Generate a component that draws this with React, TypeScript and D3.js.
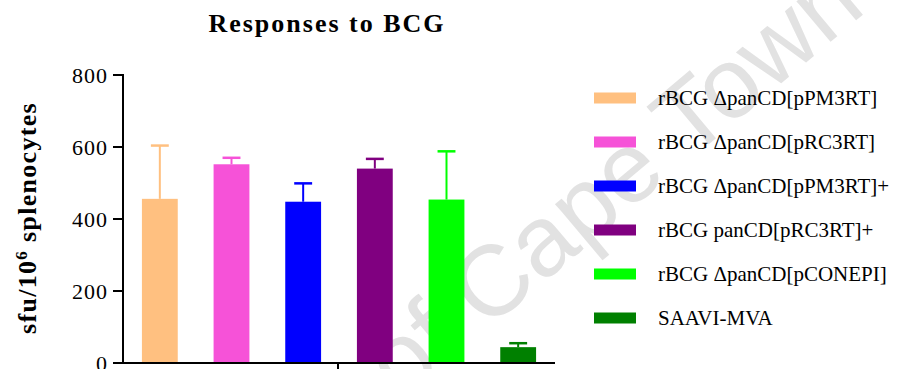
import React from "react";
import * as d3 from "d3";

const groups = [
  "rBCG ΔpanCD[pPM3RT]",
  "rBCG ΔpanCD[pRC3RT]",
  "rBCG ΔpanCD[pPM3RT]+",
  "rBCG panCD[pRC3RT]+",
  "rBCG ΔpanCD[pCONEPI]",
  "SAAVI-MVA",
];
const means = [456, 552, 448, 540, 454, 44];
const errors = [148, 18, 51, 27, 134, 11];
const colors = ["#FFC080", "#F652D8", "#0000FF", "#800080", "#00FF00", "#008000"];
const yTicks = [0, 200, 400, 600, 800];

const W = 898;
const H = 369;

export default function App() {
  const x = d3.scaleBand<string>().domain(groups).range([124, 554]).paddingInner(0.5).paddingOuter(0.25);
  const y = d3.scaleLinear().domain([0, 800]).range([363, 75]);
  const bw = x.bandwidth();
  const serif = "'Liberation Serif', 'Times New Roman', serif";
  const ang = -40;
  return (
    <svg width={W} height={H} style={{ position: "absolute", left: 0, top: 0, background: "#fff" }}>
      {/* watermark */}
      <g fill="#e2e2e2" fontFamily="'Liberation Sans', Arial, sans-serif" fontSize={100}>
        <text transform={`translate(486,331) rotate(${ang})`} textAnchor="start">Cape Town</text>
        <text transform={`translate(486,331) rotate(${ang})`} textAnchor="end">University of&#160;</text>
      </g>
      <text x={327} y={32} textAnchor="middle" fontFamily={serif} fontWeight="bold" fontSize={26} letterSpacing={2}>
        Responses to BCG
      </text>
      {/* bars */}
      {groups.map((g, i) => {
        const x0 = x(g)!;
        const cx = x0 + bw / 2;
        return (
          <g key={g}>
            <rect x={x0} y={y(means[i])} width={bw} height={y(0) - y(means[i])} fill={colors[i]} />
            <line x1={cx} x2={cx} y1={y(means[i])} y2={y(means[i] + errors[i])} stroke={colors[i]} strokeWidth={2} />
            <line x1={cx - bw / 4} x2={cx + bw / 4} y1={y(means[i] + errors[i])} y2={y(means[i] + errors[i])} stroke={colors[i]} strokeWidth={2.5} />
          </g>
        );
      })}
      {/* y axis */}
      <line x1={123} x2={123} y1={y(800) - 1} y2={y(0) + 1} stroke="#000" strokeWidth={2} />
      {yTicks.map((t) => (
        <g key={t}>
          <line x1={113} x2={123} y1={y(t)} y2={y(t)} stroke="#000" strokeWidth={2} />
          <text x={108} y={y(t)} dy="0.35em" textAnchor="end" fontFamily={serif} fontSize={22} letterSpacing={1}>
            {t}
          </text>
        </g>
      ))}
      {/* x axis */}
      <line x1={122} x2={555} y1={y(0)} y2={y(0)} stroke="#000" strokeWidth={2} />
      <line x1={338} x2={338} y1={y(0)} y2={y(0) + 10} stroke="#000" strokeWidth={2} />
      {/* y label */}
      <text transform={`translate(36,218) rotate(-90)`} textAnchor="middle" fontFamily={serif} fontWeight="bold" fontSize={26} letterSpacing={1.3}>
        sfu/10<tspan dy={-9} fontSize={17}>6</tspan>
        <tspan dy={9}> splenocytes</tspan>
      </text>
      {/* legend */}
      {groups.map((g, i) => {
        const cy = 98 + i * 44;
        return (
          <g key={"l" + g}>
            <rect x={594} y={cy - 5.5} width={42} height={11} fill={colors[i]} />
            <text x={658} y={cy} dy="0.35em" fontFamily={serif} fontSize={21}>
              {g}
            </text>
          </g>
        );
      })}
    </svg>
  );
}
